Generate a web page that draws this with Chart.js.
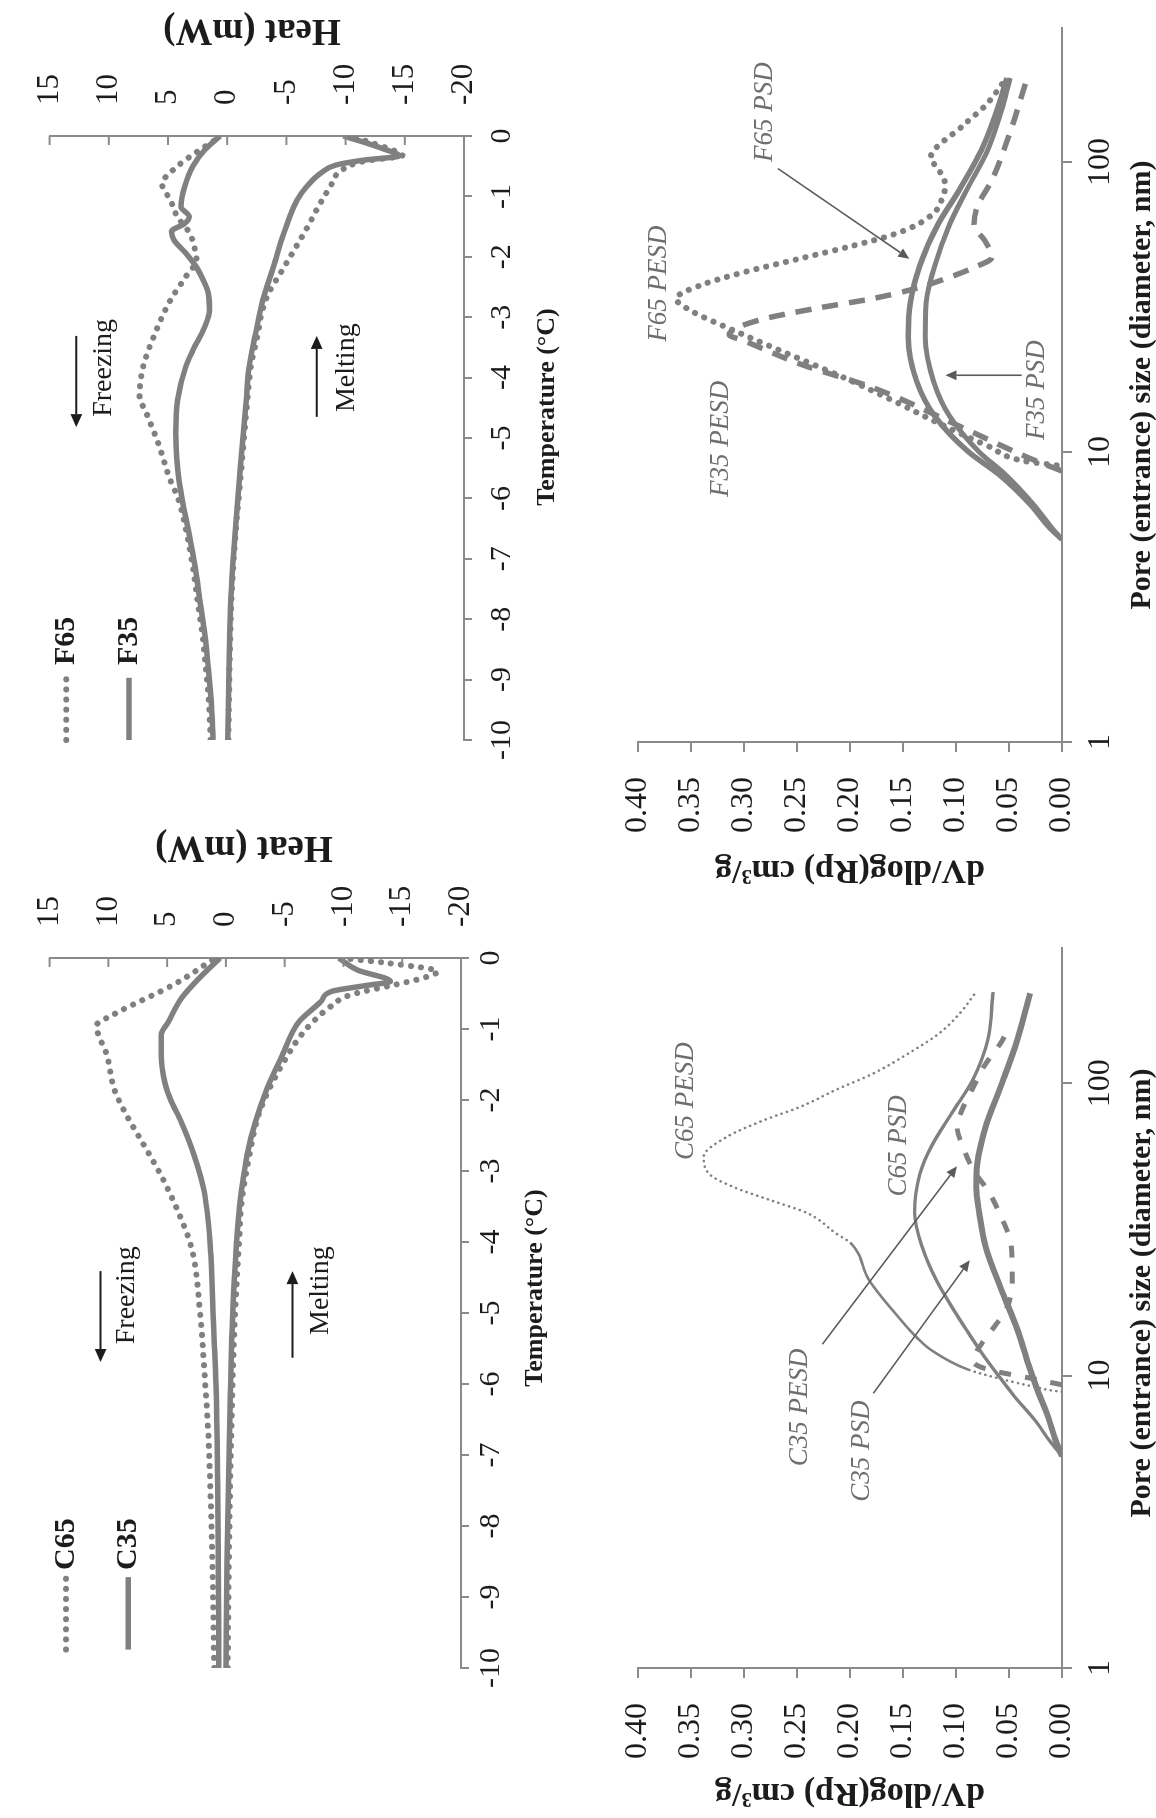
<!DOCTYPE html>
<html>
<head>
<meta charset="utf-8">
<title>DSC thermograms and pore size distributions</title>
<script src="https://cdn.jsdelivr.net/npm/chart.js@4.4.1/dist/chart.umd.min.js"></script>
<style>
  html, body { margin: 0; padding: 0; background: #fff; overflow: hidden; }
  body { width: 1156px; height: 1818px; position: relative; }
  /* the figure is laid out upright (1818 x 1156) and turned a quarter turn counter-clockwise */
  #page { position: absolute; left: 0; top: 0; width: 1818px; height: 1156px;
          transform-origin: 0 0; transform: translateY(1818px) rotate(-90deg); }
  #page canvas { position: absolute; left: 0; top: 0; }
</style>
</head>
<body>
<div id="page">
  <canvas id="cDsc" width="1818" height="1156"></canvas>
  <canvas id="fDsc" width="1818" height="1156"></canvas>
  <canvas id="cPore" width="1818" height="1156"></canvas>
  <canvas id="fPore" width="1818" height="1156"></canvas>
</div>
<script>
const W = 1818, H = 1156;
const GRAY = '#808080', AXIS = '#8a8a8a', INK = '#1c1c1c', NOTE = '#6e6e6e';
const SERIF = "'Liberation Serif', 'Times New Roman', serif";

// axis ticks
const tempTicks = [-10, -9, -8, -7, -6, -5, -4, -3, -2, -1, 0];
const heatTicks = [-20, -15, -10, -5, 0, 5, 10, 15];
const dvTicks = [0, 0.05, 0.1, 0.15, 0.2, 0.25, 0.3, 0.35, 0.4];
const poreTicks = [1, 10, 100];

// DSC curves: [temperature °C, heat mW]
const c65Freezing = [[-10, 1.0], [-8.5, 1.15], [-7.6, 1.3], [-6.7, 1.5], [-5.9, 1.8], [-5.0, 2.2], [-4.1, 2.9], [-3.6, 4.0], [-3.1, 5.4], [-2.6, 7.1], [-2.2, 8.5], [-1.85, 9.5], [-1.38, 10.1], [-0.95, 11.0], [-0.8, 9.6], [-0.37, 4.4], [0, 0.9]];
const c35Freezing = [[-10, 0.6], [-8.5, 0.65], [-7.5, 0.7], [-6, 0.85], [-5, 1.1], [-4, 1.35], [-3.25, 1.9], [-2.78, 2.7], [-2.31, 3.8], [-1.98, 4.75], [-1.75, 5.2], [-1.37, 5.5], [-1.08, 5.5], [-0.9, 4.9], [-0.57, 3.8], [-0.28, 2.25], [0, 0.5]];
const c65Melting = [[-10, -0.15], [-8.5, -0.25], [-6.7, -0.45], [-5.1, -0.75], [-3.9, -1.15], [-3.5, -1.3], [-2.78, -2.0], [-2.2, -2.8], [-1.84, -3.7], [-1.47, -4.9], [-1.13, -6.2], [-0.9, -7.4], [-0.71, -8.7], [-0.52, -10.6], [-0.38, -14.3], [-0.28, -16.8], [-0.19, -18.0], [-0.07, -13.7], [0, -9.9]];
const c35Melting = [[-10, 0], [-8.5, -0.1], [-6.7, -0.3], [-5.1, -0.55], [-4.0, -0.9], [-3.5, -1.15], [-2.78, -1.8], [-2.31, -2.5], [-1.84, -3.5], [-1.37, -4.8], [-0.9, -6.2], [-0.61, -8.1], [-0.47, -9.0], [-0.39, -11.8], [-0.33, -14.0], [-0.17, -11.2], [0, -9.6]];

const f65Freezing = [[-10, 1.4], [-9.35, 1.55], [-8.8, 1.8], [-8.24, 2.1], [-7.7, 2.5], [-7.14, 2.9], [-6.6, 3.4], [-6.03, 4.1], [-5.65, 4.9], [-5.1, 5.8], [-4.6, 6.8], [-4.3, 7.4], [-3.82, 7.1], [-3.27, 6.1], [-2.72, 4.8], [-2.33, 3.5], [-2.05, 2.6], [-1.9, 2.7], [-1.6, 3.2], [-1.34, 4.2], [-1.06, 4.8], [-0.8, 5.5], [-0.5, 4.2], [-0.23, 2.3], [0, 0.5]];
const f35Freezing = [[-10, 1.2], [-9.35, 1.35], [-8.8, 1.6], [-8.24, 1.9], [-7.7, 2.3], [-7.14, 2.7], [-6.6, 3.2], [-6.03, 3.8], [-5.48, 4.2], [-4.93, 4.35], [-4.38, 4.2], [-3.82, 3.5], [-3.55, 2.9], [-3.16, 1.9], [-2.88, 1.5], [-2.6, 1.6], [-2.44, 1.9], [-2.17, 2.6], [-1.94, 3.5], [-1.72, 4.5], [-1.58, 4.7], [-1.45, 3.6], [-1.34, 3.2], [-1.17, 3.9], [-0.84, 3.6], [-0.5, 2.9], [-0.23, 1.9], [0, 0.6]];
const f65Melting = [[-10, -0.1], [-8.8, -0.2], [-7.7, -0.35], [-6.6, -0.7], [-5.5, -1.2], [-4.38, -1.7], [-3.82, -2.0], [-3.27, -2.6], [-2.9, -2.95], [-2.6, -3.5], [-2.27, -4.5], [-1.94, -5.5], [-1.5, -6.8], [-1.17, -7.7], [-0.84, -8.7], [-0.56, -9.7], [-0.42, -11.5], [-0.32, -14.8], [-0.2, -13.5], [-0.1, -12.0], [0, -10.5]];
const f35Melting = [[-10, -0.05], [-8.8, -0.15], [-7.7, -0.3], [-6.6, -0.65], [-5.5, -1.1], [-4.38, -1.6], [-3.82, -1.85], [-3.27, -2.4], [-2.72, -3.0], [-2.17, -3.9], [-1.6, -4.8], [-1.06, -5.9], [-0.84, -6.7], [-0.6, -8.0], [-0.48, -9.2], [-0.4, -11.5], [-0.33, -14.5], [-0.2, -13.0], [-0.1, -11.5], [0, -9.8]];

// pore size distributions: [diameter nm, dV/dlog(Rp) cm3/g]
const c65Pesd = [[8.8, 0.0], [8.9, 0.01], [9.1, 0.023], [9.75, 0.058], [10.5, 0.089], [12.2, 0.123], [13.5, 0.137], [15.8, 0.154], [21.2, 0.182], [28.3, 0.199], [30.6, 0.213], [35.9, 0.24], [39.8, 0.275], [44, 0.309], [49, 0.333], [56, 0.338], [65.6, 0.316], [74.8, 0.281], [83, 0.247], [95, 0.213], [108, 0.178], [127, 0.144], [148, 0.116], [174, 0.096], [203, 0.082]];
const c35Pesd = [[9.3, 0.0], [9.8, 0.03], [10.5, 0.07], [11.2, 0.084], [13, 0.075], [15, 0.062], [17, 0.052], [21, 0.047], [28, 0.048], [34, 0.056], [43, 0.07], [50, 0.083], [60, 0.093], [71, 0.099], [80, 0.095], [95, 0.085], [115, 0.073], [137, 0.058], [150, 0.052]];
const c65Psd = [[5.3, 0.0], [6, 0.012], [7, 0.025], [8.5, 0.045], [10, 0.06], [12, 0.076], [14.3, 0.09], [16.3, 0.1], [21, 0.118], [27.6, 0.132], [36, 0.139], [49, 0.134], [61, 0.123], [79, 0.104], [103, 0.084], [141, 0.07], [205, 0.065]];
const c35Psd = [[5.3, 0.0], [6, 0.006], [7.2, 0.013], [8.9, 0.023], [11, 0.032], [13, 0.038], [15, 0.044], [20, 0.058], [27.6, 0.072], [36, 0.078], [44, 0.081], [53, 0.08], [71, 0.072], [97, 0.058], [134, 0.044], [203, 0.03]];

const f65Pesd = [[9.0, 0.005], [9.3, 0.035], [10.5, 0.07], [12.5, 0.115], [15.2, 0.162], [18, 0.205], [21, 0.248], [26, 0.307], [31, 0.352], [33.8, 0.364], [37.6, 0.341], [41.8, 0.299], [46.4, 0.248], [51.6, 0.196], [55.8, 0.162], [60.5, 0.138], [67.3, 0.12], [75, 0.113], [83, 0.11], [95, 0.117], [103, 0.124], [134, 0.093], [157, 0.072], [189, 0.055]];
const f35Pesd = [[8.6, 0.0], [9.5, 0.03], [12.1, 0.093], [16.7, 0.179], [20, 0.245], [24.2, 0.3], [25.4, 0.314], [28.5, 0.286], [31.2, 0.234], [33.8, 0.179], [36.5, 0.14], [39.6, 0.11], [43, 0.085], [47, 0.066], [53, 0.072], [61, 0.083], [70, 0.08], [87, 0.066], [130, 0.048], [189, 0.034]];
const f65Psd = [[5.0, 0.0], [5.5, 0.012], [6.6, 0.03], [8.4, 0.06], [10, 0.088], [13.3, 0.12], [17.5, 0.137], [25, 0.145], [33, 0.143], [44, 0.134], [61, 0.117], [80, 0.097], [110, 0.076], [160, 0.059], [195, 0.052]];
const f35Psd = [[5.0, 0.0], [5.5, 0.01], [6.6, 0.027], [8.4, 0.054], [10, 0.078], [13.3, 0.106], [17.5, 0.121], [25, 0.129], [33, 0.128], [44, 0.12], [61, 0.106], [80, 0.09], [110, 0.07], [160, 0.055], [195, 0.049]];

const pts = arr => arr.map(([x, y]) => ({x, y}));
const solid = (d, w) => ({data: pts(d), borderColor: GRAY, borderWidth: w, borderJoinStyle: 'round'});
const dotted = (d, w, gap) => ({data: pts(d), borderColor: GRAY, borderWidth: w, borderDash: [0.1, gap], borderCapStyle: 'round'});
const dashed = (d, w, dash) => ({data: pts(d), borderColor: GRAY, borderWidth: w, borderDash: dash});

function drawArrow(ctx, x0, y0, x1, y1, color, width, head) {
  const a = Math.atan2(y1 - y0, x1 - x0);
  const bx = x1 - head * Math.cos(a), by = y1 - head * Math.sin(a);
  ctx.save();
  ctx.strokeStyle = color; ctx.fillStyle = color; ctx.lineWidth = width; ctx.setLineDash([]);
  ctx.beginPath(); ctx.moveTo(x0, y0); ctx.lineTo(bx, by); ctx.stroke();
  ctx.beginPath(); ctx.moveTo(x1, y1);
  ctx.lineTo(bx + head * 0.45 * Math.sin(a), by - head * 0.45 * Math.cos(a));
  ctx.lineTo(bx - head * 0.45 * Math.sin(a), by + head * 0.45 * Math.cos(a));
  ctx.closePath(); ctx.fill();
  ctx.restore();
}

// axis titles, inner ticks, labels, arrows and legend
function extras(spec) {
  return {
    id: 'extras',
    afterDraw(chart) {
      const {ctx, chartArea: a} = chart;
      const px = v => chart.scales.x.getPixelForValue(v);
      const py = v => chart.scales.y.getPixelForValue(v);
      ctx.save();
      if (spec.innerTicks) {
        ctx.strokeStyle = AXIS; ctx.lineWidth = 2;
        spec.innerTicks.forEach(v => {
          ctx.beginPath(); ctx.moveTo(a.right - 9, py(v)); ctx.lineTo(a.right, py(v)); ctx.stroke();
        });
      }
      spec.titles.forEach(t => {
        ctx.save();
        ctx.font = t.font; ctx.fillStyle = INK; ctx.textAlign = 'center'; ctx.textBaseline = 'middle';
        ctx.translate(t.at[0], t.at[1]); ctx.rotate(t.rot || 0);
        ctx.fillText(t.text, 0, 0);
        ctx.restore();
      });
      (spec.notes || []).forEach(n => {
        ctx.font = n.font; ctx.fillStyle = n.color; ctx.textAlign = 'left'; ctx.textBaseline = 'middle';
        ctx.fillText(n.text, px(n.at[0]), py(n.at[1]));
      });
      (spec.arrows || []).forEach(r =>
        drawArrow(ctx, px(r.from[0]), py(r.from[1]), px(r.to[0]), py(r.to[1]), r.color, r.width, r.head));
      (spec.legend || []).forEach(k => {
        const ds = chart.data.datasets[k.ds];
        ctx.save();
        ctx.strokeStyle = ds.borderColor; ctx.lineWidth = ds.borderWidth;
        ctx.setLineDash(ds.borderDash || []); ctx.lineCap = ds.borderCapStyle || 'butt';
        ctx.beginPath(); ctx.moveTo(px(k.from), py(k.y)); ctx.lineTo(px(k.to), py(k.y)); ctx.stroke();
        ctx.restore();
        ctx.font = 'bold 30px ' + SERIF; ctx.fillStyle = INK; ctx.textAlign = 'left'; ctx.textBaseline = 'middle';
        ctx.fillText(k.label, px(k.textAt), py(k.y));
      });
      ctx.restore();
    }
  };
}

const baseOptions = padding => ({
  responsive: false, animation: false, events: [],
  layout: {padding},
  plugins: {legend: {display: false}, tooltip: {enabled: false}},
  elements: {point: {radius: 0}, line: {cubicInterpolationMode: 'monotone', fill: false}}
});

// the axis boxes are given a fixed size so that the plot areas land exactly where wanted
const AX_H = 110, AX_W = 150;

function dscChart(id, area, datasets, spec) {
  const [l, t, r, b] = area;
  const options = baseOptions({left: l, top: t, right: W - r - AX_W, bottom: H - b - AX_H});
  options.scales = {
    x: {
      type: 'linear', position: 'bottom', min: -10, max: 0,
      afterBuildTicks: s => { s.ticks = tempTicks.map(value => ({value})); },
      afterFit: s => { s.height = AX_H; },
      border: {color: AXIS, width: 2},
      grid: {drawOnChartArea: false, color: AXIS, lineWidth: 2, tickLength: 8},
      ticks: {autoSkip: false, maxRotation: 0, padding: spec.tempPad, color: INK, font: {family: SERIF, size: 30}}
    },
    y: {
      type: 'linear', position: 'right', min: -20, max: 15,
      afterBuildTicks: s => { s.ticks = heatTicks.map(value => ({value})); },
      afterFit: s => { s.width = AX_W; },
      border: {color: AXIS, width: 2},
      grid: {drawOnChartArea: false, drawTicks: false},
      ticks: {padding: 31, color: INK, font: {family: SERIF, size: 31}}
    }
  };
  return new Chart(document.getElementById(id), {type: 'line', data: {datasets}, options, plugins: [extras(spec)]});
}

function poreChart(id, area, datasets, spec) {
  const [l, t, r, b] = area;
  const options = baseOptions({left: l - AX_W, top: t, right: W - r, bottom: H - b - AX_H});
  options.scales = {
    x: {
      type: 'logarithmic', position: 'bottom', min: 1, max: 290,
      afterBuildTicks: s => { s.ticks = poreTicks.map(value => ({value})); },
      afterFit: s => { s.height = AX_H; },
      border: {color: AXIS, width: 2},
      grid: {drawOnChartArea: false, color: AXIS, lineWidth: 2, tickLength: 10},
      ticks: {autoSkip: false, maxRotation: 0, padding: 9, color: INK, font: {family: SERIF, size: 32},
              callback: v => String(v)}
    },
    y: {
      type: 'linear', position: 'left', min: 0, max: 0.4,
      afterBuildTicks: s => { s.ticks = dvTicks.map(value => ({value})); },
      afterFit: s => { s.width = AX_W; },
      border: {color: AXIS, width: 2},
      grid: {drawOnChartArea: false, color: AXIS, lineWidth: 2, tickLength: 10},
      ticks: {padding: 25, color: INK, font: {family: SERIF, size: 32}, callback: v => v.toFixed(2)}
    }
  };
  return new Chart(document.getElementById(id), {type: 'line', data: {datasets}, options, plugins: [extras(spec)]});
}

const noteFont = 'italic 27px ' + SERIF;
const plainFont = '28px ' + SERIF;
const thin = {color: '#5a5a5a', width: 1.6, head: 11};
const bold = {color: INK, width: 2, head: 13};

// C: DSC
dscChart('cDsc', [150, 34, 860, 461],
  [dotted(c65Freezing, 6, 10), solid(c35Freezing, 5.5), dotted(c65Melting, 6, 10), solid(c35Melting, 5.5)],
  {
    tempPad: 4, innerTicks: heatTicks,
    titles: [
      {text: 'Heat (mW)', at: [971, 244], rot: -Math.PI / 2, font: 'bold 37px ' + SERIF},
      {text: 'Temperature (°C)', at: [530, 535], font: 'bold 26px ' + SERIF}
    ],
    notes: [
      {text: 'Freezing', at: [-5.44, 8.44], font: plainFont, color: INK},
      {text: 'Melting', at: [-5.31, -8.03], font: plainFont, color: INK}
    ],
    arrows: [
      {from: [-4.41, 10.66], to: [-5.69, 10.66], ...bold},
      {from: [-5.63, -5.66], to: [-4.41, -5.66], ...bold}
    ],
    legend: [
      {ds: 0, label: 'C65', from: -9.74, to: -8.72, textAt: -8.62, y: 13.6},
      {ds: 1, label: 'C35', from: -9.74, to: -8.72, textAt: -8.62, y: 8.3}
    ]
  });

// F: DSC
dscChart('fDsc', [1078, 45, 1682, 464],
  [dotted(f65Freezing, 6, 10), solid(f35Freezing, 5.5), dotted(f65Melting, 6, 10), solid(f35Melting, 5.5)],
  {
    tempPad: 12, innerTicks: heatTicks,
    titles: [
      {text: 'Heat (mW)', at: [1788, 252], rot: -Math.PI / 2, font: 'bold 37px ' + SERIF},
      {text: 'Temperature (°C)', at: [1411, 547], font: 'bold 26px ' + SERIF}
    ],
    notes: [
      {text: 'Freezing', at: [-4.65, 10.4], font: plainFont, color: INK},
      {text: 'Melting', at: [-4.57, -10.1], font: plainFont, color: INK}
    ],
    arrows: [
      {from: [-3.31, 12.74], to: [-4.82, 12.74], ...bold},
      {from: [-4.65, -7.56], to: [-3.31, -7.56], ...bold}
    ],
    legend: [
      {ds: 0, label: 'F65', from: -10, to: -8.97, textAt: -8.76, y: 13.6},
      {ds: 1, label: 'F35', from: -10, to: -8.97, textAt: -8.76, y: 8.3}
    ]
  });

// C: pore entrance sizes
const c65PesdSet = dotted(c65Pesd, 2.6, 5.5);
c65PesdSet.segment = {borderDash: s => (s.p0.parsed.x >= 10.5 && s.p1.parsed.x <= 28.3) ? [] : undefined};
poreChart('cPore', [150, 638, 870, 1062],
  [solid(c65Psd, 3.4), solid(c35Psd, 6), dashed(c35Pesd, 5, [12, 14]), c65PesdSet],
  {
    titles: [
      {text: 'dV/dlog(Rp) cm³/g', at: [25, 850], rot: -Math.PI / 2, font: 'bold 34px ' + SERIF},
      {text: 'Pore (entrance) size (diameter, nm)', at: [525, 1142], font: 'bold 30px ' + SERIF}
    ],
    notes: [
      {text: 'C65 PESD', at: [54.6, 0.355], font: noteFont, color: NOTE},
      {text: 'C65 PSD', at: [41, 0.154], font: noteFont, color: NOTE},
      {text: 'C35 PESD', at: [4.9, 0.247], font: noteFont, color: NOTE},
      {text: 'C35 PSD', at: [3.7, 0.189], font: noteFont, color: NOTE}
    ],
    arrows: [
      {from: [12.8, 0.226], to: [52, 0.099], ...thin},
      {from: [8.7, 0.178], to: [24.8, 0.087], ...thin}
    ]
  });

// F: pore entrance sizes
poreChart('fPore', [1076, 638, 1790, 1062],
  [solid(f65Psd, 5.5), solid(f35Psd, 5), dotted(f65Pesd, 6, 10), dashed(f35Pesd, 5.5, [16, 11])],
  {
    titles: [
      {text: 'dV/dlog(Rp) cm³/g', at: [948, 850], rot: -Math.PI / 2, font: 'bold 34px ' + SERIF},
      {text: 'Pore (entrance) size (diameter, nm)', at: [1433, 1142], font: 'bold 30px ' + SERIF}
    ],
    notes: [
      {text: 'F65 PSD', at: [100, 0.28], font: noteFont, color: NOTE},
      {text: 'F65 PESD', at: [24, 0.38], font: noteFont, color: NOTE},
      {text: 'F35 PESD', at: [7, 0.322], font: noteFont, color: NOTE},
      {text: 'F35 PSD', at: [11, 0.024], font: noteFont, color: NOTE}
    ],
    arrows: [
      {from: [95, 0.268], to: [46.4, 0.144], ...thin},
      {from: [18.4, 0.038], to: [18.4, 0.11], ...thin}
    ]
  });
</script>
</body>
</html>
